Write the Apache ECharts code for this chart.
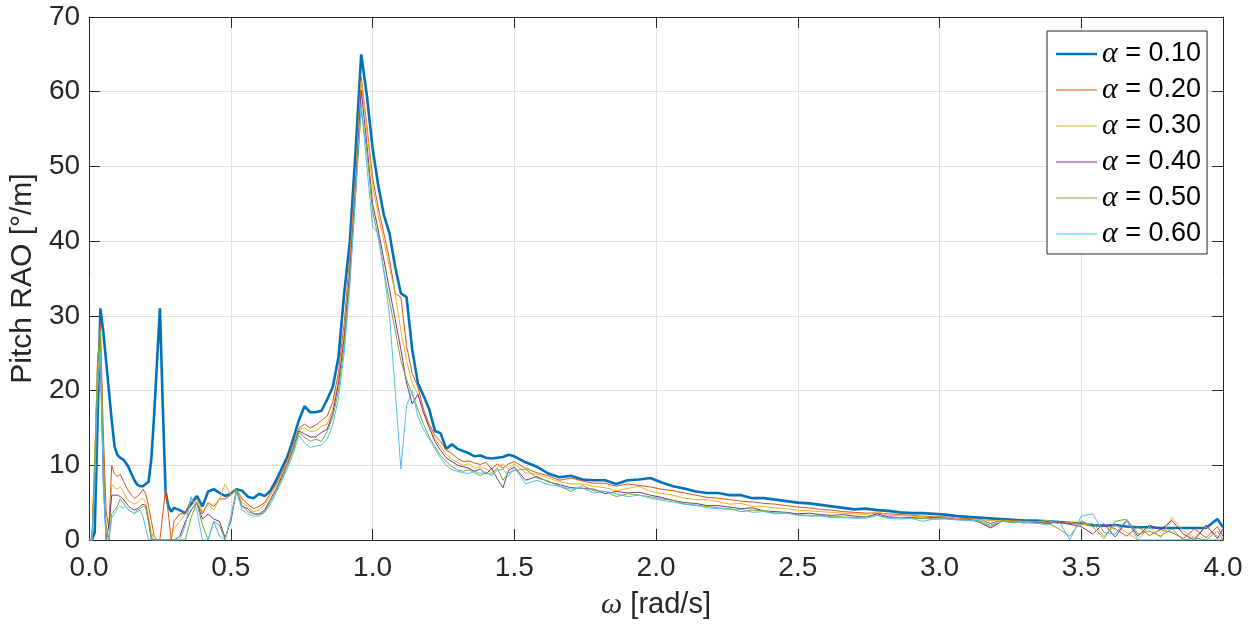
<!DOCTYPE html>
<html>
<head>
<meta charset="utf-8">
<script src="https://cdn.jsdelivr.net/npm/echarts@6/dist/echarts.min.js"></script>
<style>html,body{margin:0;padding:0;background:#fff;}#c{width:1254px;height:625px;}</style>
</head>
<body>
<div id="c"></div>
<script>
// Frequency grid (rad/s)
const omega = [
0,0.01,0.02,0.03,0.04,0.05,0.06,0.07,0.08,0.09,0.1,0.11,0.12,0.13,0.14,0.15,0.16,0.17,0.18,0.19,0.2,0.21,0.22,0.23,0.24,0.25,0.26,0.27,0.28,0.29,0.3,
0.32,0.34,0.36,0.38,0.4,0.42,0.44,0.46,0.48,0.5,0.52,0.54,0.56,0.58,0.6,0.62,0.64,0.66,0.68,0.7,
0.72,0.74,0.76,0.78,0.8,0.82,0.84,0.86,0.88,0.9,0.92,0.94,0.96,0.98,1,1.02,1.04,1.06,1.08,1.1,
1.12,1.14,1.16,1.18,1.2,1.22,1.24,1.26,1.28,1.3,1.32,1.34,1.36,1.38,1.4,1.42,1.44,1.46,1.48,1.5,
1.54,1.58,1.62,1.66,1.7,1.74,1.78,1.82,1.86,1.9,1.94,1.98,2.02,2.06,2.1,2.14,2.18,2.22,2.26,2.3,
2.34,2.38,2.42,2.46,2.5,2.54,2.58,2.62,2.66,2.7,2.74,2.78,2.82,2.86,2.9,2.94,2.98,3.02,3.06,3.1,
3.14,3.18,3.22,3.26,3.3,3.34,3.38,3.42,3.46,3.5,3.54,3.58,3.62,3.66,3.7,3.74,3.78,3.82,3.86,3.9,
3.94,3.98,4
];

const alphaLabels = ['0.10','0.20','0.30','0.40','0.50','0.60'];

const rao010 = [
0,0,1,16,31,28,24,20,16,12.5, 11.4,11.0,10.8,10.3,9.7,8.8,8.0,7.4,7.2,7.2, 7.5,7.8,11,17,24,31,18,6.5,4.5,3.8, 4.3,
4.0,3.6,4.8,5.9,4.5,6.5,6.8,6.3,5.9,6.2, 6.8,6.6,5.8,5.6,6.2,5.9,6.6,8.0,9.6,11.2,
13.5,16.0,17.9,17.1,17.1,17.3,18.8,20.5,24.5,33, 40,52,65,59.5,52.5,47.5,43.5,41,36.5,33,
32.5,25.5,21,19.3,17.5,14.6,14.3,12.2,12.8,12.2, 11.9,11.6,11.2,11.3,11.0,10.9,11.0,11.1,11.4,11.2,
10.4,9.8,8.9,8.4,8.6,8.1,8.0,8.0,7.5,8.0, 8.1,8.3,7.7,7.2,6.9,6.5,6.3,6.3,6.0,6.0,
5.6,5.6,5.4,5.2,5.0,4.9,4.7,4.5,4.3,4.1, 4.2,4.0,3.9,3.7,3.6,3.6,3.5,3.4,3.2,3.1,
3.0,2.9,2.8,2.7,2.6,2.6,2.5,2.4,2.3,2.2, 2.0,1.9,2.0,1.8,1.7,1.7,1.6,1.6,1.6,1.6,
1.6,2.8,1.7
];

const rao020 = [
0,0,10,24,29,15,4,1.5,10,8.8, 8.5,8.8,8,7.2,6.5,6,5.6,5.8,6.2,6.8, 6.2,4.5,2.5,0.5,0,0,3.5,6.8,3.5,0, 2.5,
3.5,3.5,5.5,5.0,3.5,5.0,4.5,5.5,5.5,6.0, 6.8,5.5,4.8,4.2,4.5,
5.0,6.3,7.5,9.0,10.8,12.8,15.0,15.5,15.0,15.4, 16.0,16.6,18.5,22.5,29,38,49,62,55.5,48.5,
44.5,41,37.5,33,32.5,26,22.3,20.5,17.5,15.5, 14,13.2,12,11.6,10.9,10.5,10.6,10.3,10.1,10.4,
9.5,10.2,9.6,10.2,10.5,
9.6,9.0,8.6,8.0,8.3,7.9,7.6,7.6,7.2,7.5, 7.3,7.1,6.8,6.6,6.3,6.0,5.7,5.6,5.4,5.2,
5.1,4.9,4.8,4.6,4.4,4.3,4.1,4.0,3.8,3.7, 3.6,3.6,3.5,3.4,3.3,3.2,3.1,3.1,3.0,2.9,
2.8,2.2,2.7,2.6,2.5,2.5,2.4,2.3,2.2,2.3, 1.8,2.0,1.5,0.5,1.8,0.6,1.4,1.0,0.2,1.5,
0.3,1.8,0.5
];

const rao030 = [
0,0,12,22,26,10,1,0,7.5,7.0, 6.8,7.2,6.5,5.8,5.2,5.0,4.8,5.0,5.4,5.6, 5.0,3,1,0,0,0,0,0,0,0.5, 1.5,
2.5,3.5,4.5,5.5,3.8,4.8,4.0,5.5,7.5,6.0, 6.8,5.0,4.5,3.8,4.0,
4.8,6.0,7.2,8.8,10.5,12.5,14.8,15.0,14.5,14.6, 15.2,15.5,17.5,21.5,28,37,48,61.4,55,47.5,
43.5,40,36.5,33,28,24,21,19.5,17.2,15.2, 13.5,12.5,11.5,10.8,10.4,10,10.2,9.6,9.8,9.5,
9.0,9.7,10.2,9.5,10.2,
9.0,8.8,8.3,7.8,7.5,7.5,7.2,7.0,6.6,6.9, 7.2,6.5,6.2,6.0,5.6,5.4,5.4,5.1,4.8,4.9,
4.5,4.5,4.3,4.2,4.0,3.9,3.8,3.7,3.6,3.5, 3.4,3.8,3.3,3.3,3.2,3.1,3.0,3.0,3.0,2.8,
2.7,2.6,2.6,2.5,2.5,2.4,2.6,2.2,2.4,2.0, 2.3,0.5,2.0,1.0,0,1.8,0.3,3.0,1.2,0.3,
1.8,0.5,0
];

const rao040 = [
0,0,8,20,24,8,0,2,6,6, 6,5.8,5.5,5,4.5,4.2,4,4.2,4.5,4.8, 4.6,2.5,0,0,0,0,0,0,0,0, 0,
0.5,2.5,4.0,5.0,2.8,3.5,2.8,2.5,0.3,2.5, 6.5,4.5,4.2,3.5,3.5,
4.0,5.5,6.8,8.5,10.2,12.2,14.6,14.2,13.8,13.8, 14.4,14.8,17.0,21,27,36,47,60.2,53,45,
41.5,37.5,33.5,29.5,25.5,21,18.2,19.5,17,15, 13.2,12,11,10.5,10,9.8,9.6,9.2,9.5,8.8,
9.6,8.2,7.0,9.3,9.8,
8.0,8.5,7.8,7.4,7.0,6.9,6.8,6.2,6.5,6.3, 6.4,6.0,5.7,5.3,5.0,4.9,4.6,4.6,4.4,4.2,
4.3,3.9,3.8,3.7,3.5,3.6,3.4,3.3,3.4,3.2, 3.1,3.5,3.1,3.0,3.0,2.9,3.0,2.9,2.8,2.8,
2.4,1.6,2.5,2.4,2.3,2.4,2.2,2.4,2.1,1.8, 0.8,2.2,0.4,2.6,0.5,2.0,1.4,2.6,0.8,0,
2.0,0.2,1.5
];

const rao050 = [
0,0,10,24,28,12,2,0,3.5,4.0, 4.5,5.5,5.0,4.5,4.0,3.8,3.5,4.0,4.2,4.5, 4.3,2.5,0.3,0,0,0,0,0,0,0, 0,
0,0,3.0,5.0,2.0,0,2.5,2.0,0,3.0, 6.8,4.5,3.8,3.5,3.4,
3.8,5.2,6.5,8.2,10.0,12.0,14.4,13.8,13.2,13.5, 13.2,14.5,16.5,20,26,35,46,57.5,52,44,
40.5,36,32,28,24,21.5,19.5,17.5,15.5,13.8, 12.5,11.3,10.5,9.8,9.4,9.2,9.4,9.0,8.6,9.0,
8.8,9.6,8.0,9.0,9.3,
9.5,8.3,7.9,7.2,6.5,7.3,6.6,6.5,5.8,6.2, 6.0,5.8,5.5,5.3,4.8,4.6,4.5,4.3,4.2,3.8,
4.0,3.9,3.6,3.6,3.4,3.3,3.3,3.1,3.1,3.0, 3.1,3.3,3.0,3.0,2.9,2.9,2.8,2.9,2.7,2.7,
2.5,1.8,2.6,2.3,2.4,2.2,2.3,1.5,0.5,2.6, 1.8,0.2,2.5,2.8,0.8,1.2,0.5,1.5,0,0.3,
0,1.2,0
];

const rao060 = [
0,0,7,20,25,8,0,0,3.0,3.5, 4.2,4.5,4.3,4.5,4.0,3.8,3.5,3.8,4.0,3.2, 1.5,0,0,0,0,0,0,0,0,0, 0,
0,2.0,5.8,4.0,0,0,2.5,0.5,0,3.0, 6.5,4.0,3.5,3.2,3.2,
3.7,4.8,6.3,7.9,9.6,11.5,14.0,13.0,12.4,12.6, 12.7,13.5,15.5,19,25,34,46,58.5,50,42,
41,36,30,20,9.5,18,20,16.5,14.8,13.5, 12.2,11,10,9.4,9.2,9.0,8.9,9.2,8.9,9.1,
8.6,9.3,9.5,8.5,9.7,
7.5,8.0,7.4,7.2,6.8,7.0,6.3,6.5,6.2,5.8, 6.0,5.6,5.3,5.1,4.8,4.7,4.3,4.2,4.1,4.1,
3.7,3.8,3.5,3.6,3.3,3.2,3.2,3.0,3.0,2.9, 2.9,3.3,2.9,2.8,2.9,2.5,2.8,2.8,2.7,2.6,
2.6,2.0,2.5,2.4,2.3,2.3,2.0,2.6,0,3.2, 3.5,1.0,0.8,2.7,0,0,0,0,0,0,
0,0,0
];

const seriesValues = [rao010, rao020, rao030, rao040, rao050, rao060];
const colors = ['#0072BD','#D95319','#EDB120','#7E2F8E','#77AC30','#4DBEEE'];
const widths = [2.6, 1, 1, 1, 1, 1];

seriesValues.forEach((s, i) => {
  if (s.length !== omega.length) throw new Error('length mismatch series ' + i + ': ' + s.length + ' vs ' + omega.length);
});

const FONT = '"Liberation Sans", Arial, Helvetica, sans-serif';
const SERIF = '"Liberation Serif", "DejaVu Serif", serif';
const TXT = '#262626';

const chart = echarts.init(document.getElementById('c'), null, {renderer: 'canvas'});

function axisCommon() {
  return {
    axisLine: {show: true, onZero: false, lineStyle: {color: TXT, width: 1}},
    axisTick: {show: true, inside: true, length: 11, lineStyle: {color: TXT, width: 1}}
  };
}

chart.setOption({
  animation: false,
  backgroundColor: '#fff',
  color: colors,
  grid: {left: 86, right: 31, top: 17, bottom: 84, containLabel: false},
  legend: {
    orient: 'vertical',
    left: 1047,
    top: 31,
    padding: [8, 6, 5, 9],
    itemWidth: 41,
    itemHeight: 14,
    itemGap: 6,
    backgroundColor: '#fff',
    borderColor: '#262626',
    borderWidth: 1,
    borderRadius: 0,
    data: alphaLabels.map((n, i) => ({
      name: n,
      icon: widths[i] > 2 ? 'path://M0,0h41v2.6h-41z' : 'path://M0,0h41v1h-41z',
      itemStyle: {color: colors[i]}
    })),
    formatter: function (name) { return '{a|α}{b| = ' + name + '}'; },
    textStyle: {
      color: '#000',
      lineHeight: 29,
      rich: {
        a: {fontFamily: SERIF, fontStyle: 'italic', fontSize: 30, color: '#000', lineHeight: 29},
        b: {fontFamily: FONT, fontSize: 27, color: '#000', lineHeight: 29}
      }
    }
  },
  xAxis: [
    Object.assign({
      type: 'value', min: 0, max: 4, interval: 0.5, position: 'bottom',
      name: '{w|ω} [rad/s]', nameLocation: 'middle', nameGap: 50,
      nameTextStyle: {
        color: TXT, fontFamily: FONT, fontSize: 29,
        rich: {w: {fontFamily: SERIF, fontStyle: 'italic', fontSize: 30, color: TXT}}
      },
      axisLabel: {color: TXT, fontFamily: FONT, fontSize: 28, margin: 14, formatter: v => v.toFixed(1)},
      splitLine: {show: true, lineStyle: {color: '#e0e0e0', width: 1}}
    }, axisCommon()),
    Object.assign({
      type: 'value', min: 0, max: 4, interval: 0.5, position: 'top',
      axisLabel: {show: false}, splitLine: {show: false}
    }, axisCommon())
  ],
  yAxis: [
    Object.assign({
      type: 'value', min: 0, max: 70, interval: 10, position: 'left',
      name: 'Pitch RAO [°/m]', nameLocation: 'middle', nameGap: 44, nameRotate: 90,
      nameTextStyle: {color: TXT, fontFamily: FONT, fontSize: 30},
      axisLabel: {color: TXT, fontFamily: FONT, fontSize: 28, margin: 9},
      splitLine: {show: true, lineStyle: {color: '#e0e0e0', width: 1}}
    }, axisCommon()),
    Object.assign({
      type: 'value', min: 0, max: 70, interval: 10, position: 'right',
      axisLabel: {show: false}, splitLine: {show: false}
    }, axisCommon())
  ],
  series: seriesValues.map((vals, i) => ({
    name: alphaLabels[i],
    type: 'line',
    xAxisIndex: 0,
    yAxisIndex: 0,
    data: omega.map((w, k) => [w, vals[k]]),
    symbol: 'none',
    showSymbol: false,
    smooth: false,
    lineStyle: {color: colors[i], width: widths[i]},
    itemStyle: {color: colors[i]},
    z: 2 + i
  }))
});
</script>
</body>
</html>
